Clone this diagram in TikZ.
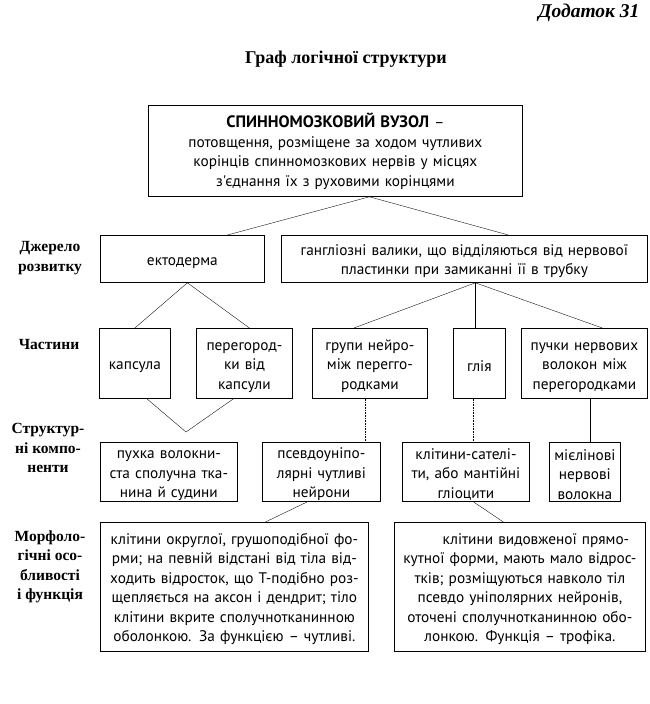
\documentclass[tikz,border=0pt]{standalone}
\usepackage{fontspec}
\setmainfont{Liberation Serif}
\newfontfamily\bodyfont{PT Sans}
\begin{document}
\begin{tikzpicture}[x=1pt,y=-1pt,
  box/.style 2 args={draw,line width=.8pt,anchor=north west,inner sep=0pt,
    minimum width=#1,text width=#1,minimum height=#2,align=center,
    font=\bodyfont\fontsize{15.3}{19.5}\selectfont,
    execute at begin node={\rule{0pt}{15.5pt}}},
  rowlabel/.style={align=center,font=\bfseries\fontsize{15.5}{19.5}\selectfont},
  link/.style={line width=.35pt},
  dotlink/.style={densely dotted,line width=.6pt},
  solidlink/.style={line width=.8pt}]
\useasboundingbox (0,0) rectangle (649,704);
% headings
\node[anchor=east,font=\bfseries\itshape\fontsize{19.5}{21}\selectfont] (app) at (643,13) {Додаток 31};
\node[font=\bfseries\fontsize{18}{20}\selectfont] (title) at (346,59) {Граф логічної структури};
% row labels
\node[rowlabel] (lsrc) at (50,258) {Джерело\\розвитку};
\node[rowlabel] (lpart) at (49,344) {Частини};
\node[rowlabel] (lcomp) at (48,448) {Структур-\\ні компо-\\ненти};
\node[rowlabel] (lmorph) at (50,567) {Морфоло-\\гічні осо-\\бливості\\і функція};
% top
\node[box={374pt}{91pt}] (ganglion) at (148,105)
  {{\fontsize{16.5}{19.5}\selectfont\bfseries СПИННОМОЗКОВИЙ ВУЗОЛ} –\\потовщення, розміщене за ходом чутливих\\корінців спинномозкових нервів у місцях\\з'єднання їх з руховими корінцями};
% source
\node[box={164pt}{47pt}] (ecto) at (100,235) {ектодерма};
\node[box={366pt}{47pt}] (ridge) at (281,235)
  {гангліозні валики, що відділяються від нервової\\пластинки при замиканні її в трубку};
% parts
\node[box={71pt}{70pt}] (capsule) at (99,328) {капсула};
\node[box={96pt}{70pt}] (septa) at (196,328) {перегород-\\ки від\\капсули};
\node[box={115pt}{70pt}] (groups) at (312,328) {групи нейро-\\між перегго-\\родками};
\node[box={52pt}{70pt}] (glia) at (453,328) {глія};
\node[box={126pt}{70pt}] (bundles) at (521,328) {пучки нервових\\волокон між\\перегородками};
% components
\node[box={137pt}{59pt}] (tissue) at (100,442) {пухка волокни-\\ста сполучна тка-\\нина й судини};
\node[box={118pt}{59pt}] (pseudo) at (262,442) {псевдоуніпо-\\лярні чутливі\\нейрони};
\node[box={127pt}{59pt}] (satel) at (402,442) {клітини-сателі-\\ти, або мантійні\\гліоцити};
\node[box={71pt}{59pt}] (myelin) at (549,442) {мієлінові\\нервові\\волокна};
% morphology
\node[box={268pt}{129pt}] (neuromorph) at (100,522)
  {клітини округлої, грушоподібної фо-\\рми; на певній відстані від тіла від-\\ходить відросток, що Т-подібно роз-\\щепляється на аксон і дендрит; тіло\\клітини вкрите сполучнотканинною\\оболонкою. За функцією – чутливі.};
\node[box={251pt}{129pt}] (gliamorph) at (394,522)
  {\hspace*{32pt}клітини видовженої прямо-\\кутної форми, мають мало відрос-\\тків; розміщуються навколо тіл\\псевдо уніполярних нейронів,\\оточені сполучнотканинною обо-\\лонкою. Функція – трофіка.};
% links
\draw[link]([xshift=45pt]ecto.north)--([xshift=34pt]ganglion.south)--([xshift=44pt]ridge.north);
\draw[link]([xshift=0pt]capsule.north)--([xshift=5pt]ecto.south)--([xshift=5pt]septa.north);
\draw[link]([xshift=-16pt]groups.north)--([xshift=11pt]ridge.south)--([xshift=18pt]bundles.north);
\draw[solidlink]([xshift=11pt]ridge.south)--([xshift=11pt]ridge.south |- glia.north);
\coordinate (join) at (186,432);
\draw[link]([xshift=12pt]capsule.south)--(join)--([xshift=-11pt]septa.south);
\draw[dotlink]([xshift=-5pt]groups.south)--([xshift=-5pt]groups.south |- pseudo.north);
\draw[dotlink]([xshift=-6pt]glia.south)--([xshift=-6pt]glia.south |- satel.north);
\draw[solidlink]([xshift=6pt]bundles.south)--([xshift=6pt]bundles.south |- myelin.north);
\draw[link]([xshift=-14pt]pseudo.south)--([xshift=31pt]neuromorph.north);
\draw[link]([xshift=7.5pt]satel.south)--([xshift=-16.5pt]gliamorph.north);
\end{tikzpicture}
\end{document}
